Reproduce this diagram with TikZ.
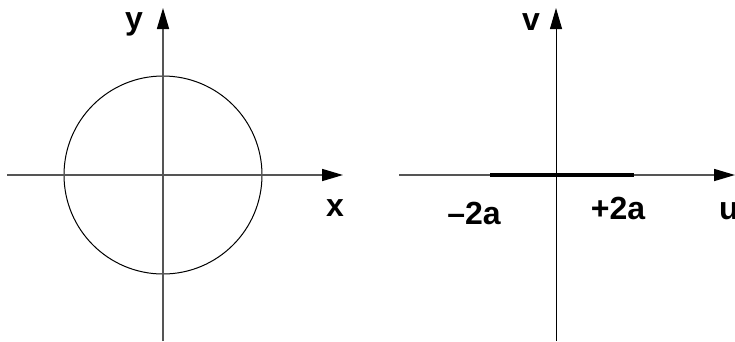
\documentclass[tikz,border=0pt]{standalone}
\usepackage{fontspec}
\setmainfont{Liberation Sans}
\usepackage{xcolor}
\usetikzlibrary{arrows.meta}
\definecolor{axgray}{RGB}{85,85,85}
\tikzset{
  axis/.style={line width=1.6pt,axgray,-{Triangle[length=21pt,width=12pt,color=black]}},
  axisb/.style={line width=1pt,black,-{Triangle[length=21pt,width=12pt]}},
  curve/.style={line width=1pt,black},
  cut/.style={line width=4.5pt,black},
  lbl/.style={anchor=base,inner sep=0pt,font=\fontsize{32}{36}\selectfont\bfseries},
}

\begin{document}
\begin{tikzpicture}[x=1pt,y=-1pt]
  \useasboundingbox (0,0) rectangle (735,341);
  % z-plane
  \coordinate (zo) at (163,175);
  \coordinate (xl) at (7,175);
  \coordinate (xr) at (343,175);
  \coordinate (yb) at (163,341);
  \coordinate (yt) at (163,8);
  \draw[curve] (zo) circle[radius=99];
  \draw[axis] (xl) -- (xr);
  \draw[axis] (yb) -- (yt);
  \node[lbl] (ylab) at (134,29) {y};
  \node[lbl] (xlab) at (335,216) {x};
  % w-plane
  \coordinate (wo) at (556,175);
  \coordinate (ul) at (399,175);
  \coordinate (ur) at (735,175);
  \coordinate (vb) at (556,341);
  \coordinate (vt) at (556,8);
  \coordinate (cl) at (490,175);
  \coordinate (cr) at (634,175);
  \draw[axis] (ul) -- (ur);
  \draw[cut] (cl) -- (cr);
  \draw[axisb] (vb) -- (vt);
  \node[lbl] (vlab) at (531,30) {v};
  \node[lbl] (ulab) at (729,219) {u};
  \node[lbl] (mlab) at (474,224) {\textendash2a};
  \node[lbl] (plab) at (618,219) {+2a};
\end{tikzpicture}
\end{document}
